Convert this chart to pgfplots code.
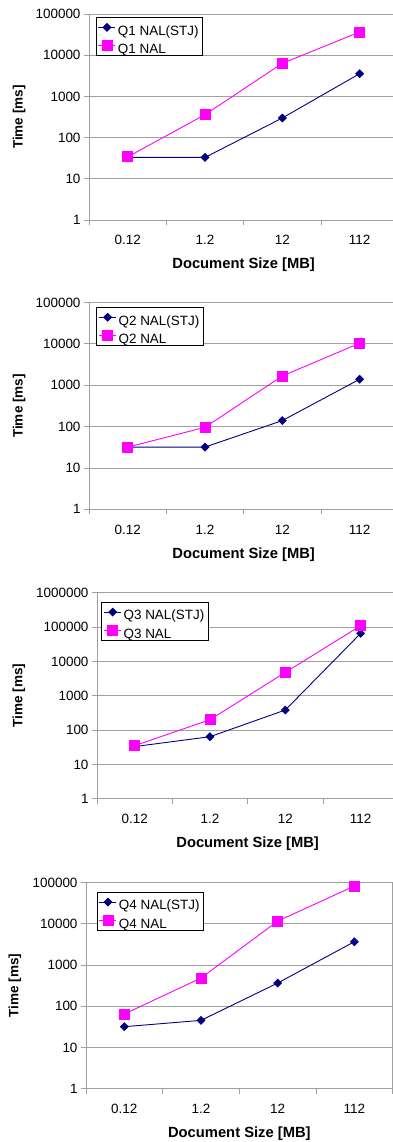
\documentclass[border=0pt]{standalone}
\usepackage{fontspec}
\setmainfont{Liberation Sans}
\usepackage{pgfplots}
\pgfplotsset{compat=1.18}
\definecolor{navyc}{RGB}{0,0,128}
\definecolor{magc}{RGB}{255,0,255}
\definecolor{gridgray}{RGB}{160,160,160}
\begin{document}
\begin{tikzpicture}
\useasboundingbox (0,-1142bp) rectangle (393bp,0);
% Panel 1
\begin{axis}[at={(89bp,-220bp)}, anchor=south west, width=309.3bp, height=206bp,
  scale only axis, xmin=-0.5, xmax=3.5, ymode=log, ymin=1, ymax=100000,
  xtick={-0.5,0.5,1.5,2.5,3.5}, x tick label as interval, xticklabels={0.12,1.2,12,112},
  ytick={1,10,100,1000,10000,100000}, yticklabels={1,10,100,1000,10000,100000},
  yminorticks=false, tick align=outside, tick pos=left, major tick length=5bp,
  axis line style={draw=gridgray, line width=0.9bp},
  tick style={draw=gridgray, line width=0.9bp},
  ymajorgrids, grid style={draw=gridgray, line width=0.9bp},
  tick label style={font=\fontsize{13.5}{16}\selectfont},
  xticklabel style={yshift=-7bp},
  xlabel={Document Size [MB]}, ylabel={Time [ms]},
  xlabel style={font=\bfseries\fontsize{14.8}{17}\selectfont, at={(axis description cs:0.5,-0.2184)}, anchor=center},
  ylabel style={font=\bfseries\fontsize{13.6}{16}\selectfont, at={(axis description cs:-0.2263,0.5)}, anchor=center},
  legend cell align=left,
  legend style={at={(axis description cs:0,1)}, anchor=north west, xshift=7bp, yshift=-3.3bp,
    draw=black, line width=0.8bp, fill=white, inner sep=2bp, outer sep=0pt,
    row sep=2.2bp, font=\fontsize{13.5}{16}\selectfont,
    nodes={inner xsep=2bp, inner ysep=0bp, text height=15.9bp, text depth=0.2bp}}]
\addplot[color=navyc, line width=0.9bp, mark=square*, mark size=2.7bp, mark options={rotate=45, solid}] coordinates {(0,33) (1,33) (2,299) (3,3560)};
\addlegendentry{Q1 NAL(STJ)}
\addplot[color=magc, line width=0.9bp, mark=square*, mark size=5bp, mark options={solid}] coordinates {(0,34) (1,360) (2,6350) (3,36500)};
\addlegendentry{Q1 NAL}
\end{axis}
% Panel 2
\begin{axis}[at={(89bp,-509.3bp)}, anchor=south west, width=309.3bp, height=206.7bp,
  scale only axis, xmin=-0.5, xmax=3.5, ymode=log, ymin=1, ymax=100000,
  xtick={-0.5,0.5,1.5,2.5,3.5}, x tick label as interval, xticklabels={0.12,1.2,12,112},
  ytick={1,10,100,1000,10000,100000}, yticklabels={1,10,100,1000,10000,100000},
  yminorticks=false, tick align=outside, tick pos=left, major tick length=5bp,
  axis line style={draw=gridgray, line width=0.9bp},
  tick style={draw=gridgray, line width=0.9bp},
  ymajorgrids, grid style={draw=gridgray, line width=0.9bp},
  tick label style={font=\fontsize{13.5}{16}\selectfont},
  xticklabel style={yshift=-7bp},
  xlabel={Document Size [MB]}, ylabel={Time [ms]},
  xlabel style={font=\bfseries\fontsize{14.8}{17}\selectfont, at={(axis description cs:0.5,-0.2211)}, anchor=center},
  ylabel style={font=\bfseries\fontsize{13.6}{16}\selectfont, at={(axis description cs:-0.2263,0.5)}, anchor=center},
  legend cell align=left,
  legend style={at={(axis description cs:0,1)}, anchor=north west, xshift=7.7bp, yshift=-4.6bp,
    draw=black, line width=0.8bp, fill=white, inner sep=2bp, outer sep=0pt,
    row sep=2.2bp, font=\fontsize{13.5}{16}\selectfont,
    nodes={inner xsep=2bp, inner ysep=0bp, text height=15.9bp, text depth=0.2bp}}]
\addplot[color=navyc, line width=0.9bp, mark=square*, mark size=2.7bp, mark options={rotate=45, solid}] coordinates {(0,32) (1,32) (2,140) (3,1400)};
\addlegendentry{Q2 NAL(STJ)}
\addplot[color=magc, line width=0.9bp, mark=square*, mark size=5bp, mark options={solid}] coordinates {(0,32) (1,96) (2,1680) (3,10400)};
\addlegendentry{Q2 NAL}
\end{axis}
% Panel 3
\begin{axis}[at={(97bp,-798.7bp)}, anchor=south west, width=301.3bp, height=206bp,
  scale only axis, xmin=-0.5, xmax=3.5, ymode=log, ymin=1, ymax=1000000,
  xtick={-0.5,0.5,1.5,2.5,3.5}, x tick label as interval, xticklabels={0.12,1.2,12,112},
  ytick={1,10,100,1000,10000,100000,1000000}, yticklabels={1,10,100,1000,10000,100000,1000000},
  yminorticks=false, tick align=outside, tick pos=left, major tick length=5bp,
  axis line style={draw=gridgray, line width=0.9bp},
  tick style={draw=gridgray, line width=0.9bp},
  ymajorgrids, grid style={draw=gridgray, line width=0.9bp},
  tick label style={font=\fontsize{13.5}{16}\selectfont},
  xticklabel style={yshift=-7bp},
  xlabel={Document Size [MB]}, ylabel={Time [ms]},
  xlabel style={font=\bfseries\fontsize{14.8}{17}\selectfont, at={(axis description cs:0.5,-0.2199)}, anchor=center},
  ylabel style={font=\bfseries\fontsize{13.6}{16}\selectfont, at={(axis description cs:-0.2589,0.5)}, anchor=center},
  legend cell align=left,
  legend style={at={(axis description cs:0,1)}, anchor=north west, xshift=4.7bp, yshift=-9.3bp,
    draw=black, line width=0.8bp, fill=white, inner sep=2bp, outer sep=0pt,
    row sep=2.2bp, font=\fontsize{13.5}{16}\selectfont,
    nodes={inner xsep=2bp, inner ysep=0bp, text height=15.9bp, text depth=0.2bp}}]
\addplot[color=navyc, line width=0.9bp, mark=square*, mark size=2.7bp, mark options={rotate=45, solid}] coordinates {(0,33) (1,64) (2,383) (3,65400)};
\addlegendentry{Q3 NAL(STJ)}
\addplot[color=magc, line width=0.9bp, mark=square*, mark size=5bp, mark options={solid}] coordinates {(0,35) (1,200) (2,4790) (3,109000)};
\addlegendentry{Q3 NAL}
\end{axis}
% Panel 4
\begin{axis}[at={(86bp,-1088.7bp)}, anchor=south west, width=306.7bp, height=206bp,
  scale only axis, xmin=-0.5, xmax=3.5, ymode=log, ymin=1, ymax=100000,
  xtick={-0.5,0.5,1.5,2.5,3.5}, x tick label as interval, xticklabels={0.12,1.2,12,112},
  ytick={1,10,100,1000,10000,100000}, yticklabels={1,10,100,1000,10000,100000},
  yminorticks=false, tick align=outside, tick pos=left, major tick length=5bp,
  axis line style={draw=gridgray, line width=0.9bp},
  tick style={draw=gridgray, line width=0.9bp},
  ymajorgrids, grid style={draw=gridgray, line width=0.9bp},
  tick label style={font=\fontsize{13.5}{16}\selectfont},
  xticklabel style={yshift=-7bp},
  xlabel={Document Size [MB]}, ylabel={Time [ms]},
  xlabel style={font=\bfseries\fontsize{14.8}{17}\selectfont, at={(axis description cs:0.5,-0.2165)}, anchor=center},
  ylabel style={font=\bfseries\fontsize{13.6}{16}\selectfont, at={(axis description cs:-0.2315,0.5)}, anchor=center},
  legend cell align=left,
  legend style={at={(axis description cs:0,1)}, anchor=north west, xshift=11bp, yshift=-9.3bp,
    draw=black, line width=0.8bp, fill=white, inner sep=2bp, outer sep=0pt,
    row sep=2.2bp, font=\fontsize{13.5}{16}\selectfont,
    nodes={inner xsep=2bp, inner ysep=0bp, text height=15.9bp, text depth=0.2bp}}]
\addplot[color=navyc, line width=0.9bp, mark=square*, mark size=2.7bp, mark options={rotate=45, solid}] coordinates {(0,32) (1,45.6) (2,367) (3,3700)};
\addlegendentry{Q4 NAL(STJ)}
\addplot[color=magc, line width=0.9bp, mark=square*, mark size=5bp, mark options={solid}] coordinates {(0,65) (1,486) (2,11700) (3,83000)};
\addlegendentry{Q4 NAL}
\end{axis}
\end{tikzpicture}
\end{document}
